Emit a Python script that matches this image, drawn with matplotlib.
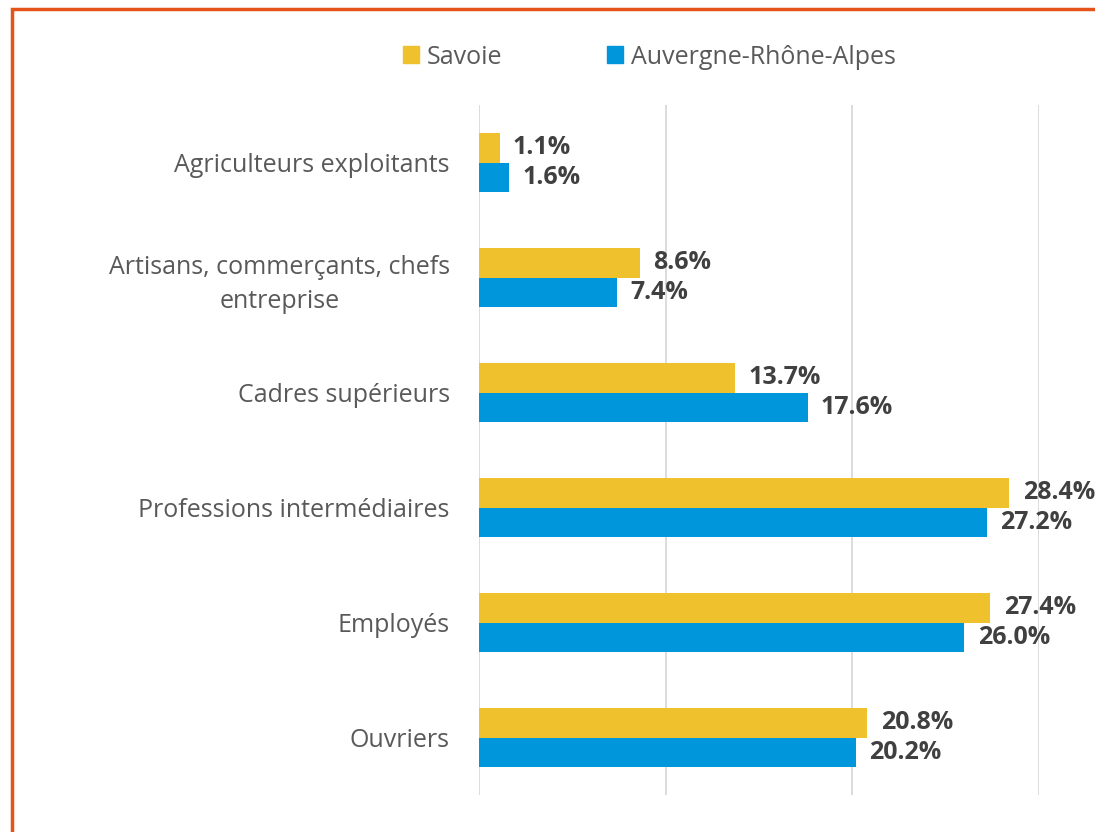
import matplotlib.pyplot as plt
import numpy as np
from matplotlib.patches import Rectangle, Patch

categories = ["Agriculteurs exploitants", "Artisans, commerçants, chefs\nentreprise",
              "Cadres supérieurs", "Professions intermédiaires", "Employés", "Ouvriers"]
savoie = [1.1, 8.6, 13.7, 28.4, 27.4, 20.8]
aura = [1.6, 7.4, 17.6, 27.2, 26.0, 20.2]
series_names = ["Savoie", "Auvergne-Rhône-Alpes"]

yellow = "#EEC12D"
blue = "#0096DC"
grey_txt = "#595959"
dark_txt = "#404040"

fig = plt.figure(figsize=(10.95, 8.32), dpi=100)
ax = fig.add_axes([479 / 1095, 1 - 795 / 832, (1039 - 479) / 1095, 690 / 832])

y = np.arange(len(categories))
h = 0.26
ax.barh(y - h / 2, savoie, height=h, color=yellow, zorder=3)
ax.barh(y + h / 2, aura, height=h, color=blue, zorder=3)

for i in range(len(categories)):
    ax.text(savoie[i] + 0.72, y[i] - h / 2, f"{savoie[i]:.1f}%", va="center", ha="left",
            fontsize=18, fontweight="bold", color=dark_txt, family="Open Sans", zorder=4)
    ax.text(aura[i] + 0.72, y[i] + h / 2, f"{aura[i]:.1f}%", va="center", ha="left",
            fontsize=18, fontweight="bold", color=dark_txt, family="Open Sans", zorder=4)

ax.set_xlim(0, 30)
ax.set_ylim(len(categories) - 0.5, -0.5)
ax.set_xticks([0, 10, 20, 30])
ax.set_xticklabels([])
ax.tick_params(axis="x", length=0)
ax.tick_params(axis="y", length=0, pad=21)
ax.set_yticks(y)
ax.set_yticklabels(categories, fontsize=18, color=grey_txt, family="Open Sans", ha="right")
for lbl in ax.get_yticklabels():
    lbl.set_multialignment("center")
    lbl.set_linespacing(1.45)
ax.grid(axis="x", color="#D9D9D9", linewidth=1.3, zorder=0)
for s in ax.spines.values():
    s.set_visible(False)

handles = [Patch(color=yellow), Patch(color=blue)]
fig.legend(handles, series_names, loc="center", bbox_to_anchor=(649 / 1095, 1 - 57 / 832),
           ncol=2, frameon=False, handlelength=0.65, handleheight=0.65,
           handletextpad=0.3, columnspacing=4.2, labelcolor=grey_txt,
           prop={"family": "Open Sans", "size": 18})

fig.patches.append(Rectangle((11.5 / 1095, -0.1), 1.2, 1 - 8.5 / 832 + 0.1,
                             transform=fig.transFigure, fill=False,
                             edgecolor="#E5531A", linewidth=2.5))

fig.savefig("out.png", dpi=100)
